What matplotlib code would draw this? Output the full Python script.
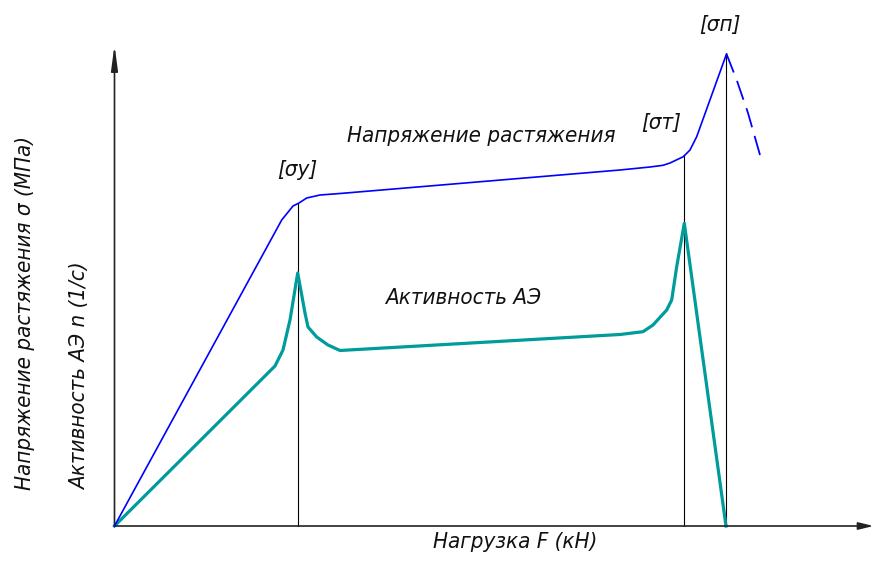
import numpy as np
import matplotlib
matplotlib.use("Agg")
import matplotlib.pyplot as plt

# Load F (arbitrary units) and tensile stress sigma (arbitrary units)
load_stress = [0, 16.72, 17.85, 18.45, 19.22, 20.55, 22.55, 50.55, 53.55, 54.85,
               55.55, 56.88, 57.55, 58.22, 61.2]
stress = [0, 30.6, 32.0, 32.3, 32.8, 33.1, 33.25, 35.6, 35.9, 36.07,
          36.3, 36.93, 37.6, 38.93, 47.2]
# Post-peak (dashed) branch
load_drop = [61.2, 62.22, 63.35, 64.55]
stress_drop = [47.2, 44.6, 41.3, 37.1]

# Acoustic-emission activity n
load_ae = [0, 16.05, 16.85, 17.55, 18.32, 19.05, 19.35, 20.22, 21.35, 22.55,
           50.55, 52.85, 53.85, 55.22, 55.72, 56.22, 56.98, 61.15]
activity = [0, 16.0, 17.6, 20.6, 25.3, 21.3, 19.9, 18.9, 18.1, 17.55,
            19.15, 19.43, 20.1, 21.6, 22.6, 25.93, 30.27, 0]

# Characteristic loads
crit_loads = [18.32, 56.98, 61.15]
crit_labels = ["[σу]", "[σт]", "[σп]"]

BLUE = "#0000ff"
TEAL = "#009b9b"

font = dict(family="DejaVu Sans", style="italic", stretch="condensed",
            color="#111111")

fig = plt.figure(figsize=(8.73, 5.61), dpi=100)
ax = fig.add_axes([0, 0, 1, 1])
ax.set_xlim(-11.45, 75.85)
ax.set_ylim(-3.5, 52.6)
ax.axis("off")

# axes with arrows
ax.annotate("", xy=(75.9, 0), xytext=(0, 0),
            arrowprops=dict(arrowstyle="-|>,head_length=0.9,head_width=0.22",
                            lw=1.2, color="#222222", shrinkA=0, shrinkB=0))
ax.annotate("", xy=(0, 48.1), xytext=(0, 0),
            arrowprops=dict(arrowstyle="-|>,head_length=1.5,head_width=0.2",
                            lw=1.2, color="#222222", shrinkA=0, shrinkB=0))

# vertical lines at characteristic loads
tops = np.interp(crit_loads, load_stress, stress)
for xl, yt in zip(crit_loads, tops):
    ax.plot([xl, xl], [0, yt], color="black", lw=0.8, zorder=1)

ax.plot(load_ae, activity, color=TEAL, lw=2.3, solid_joinstyle="round", zorder=2)
ax.plot(load_stress, stress, color=BLUE, lw=1.2, zorder=3)
ax.plot(load_drop, stress_drop, color=BLUE, lw=1.3, dashes=(11, 5), zorder=3)

# annotations
label_pos = [(18.25, 35.6), (54.65, 40.3), (60.55, 50.1)]
for (tx, ty), lab in zip(label_pos, crit_labels):
    ax.text(tx, ty, lab, ha="center", va="center", fontsize=16, **font)

ax.text(36.65, 39.0, "Напряжение растяжения", ha="center", va="center",
        fontsize=16, **font)
ax.text(34.85, 22.8, "Активность АЭ", ha="center", va="center",
        fontsize=16, **font)
ax.text(40.05, -1.6, "Нагрузка F (кН)", ha="center", va="center",
        fontsize=16, **font)
ax.text(-8.95, 3.6, "Напряжение растяжения σ (МПа)", ha="center", va="bottom",
        rotation=90, fontsize=16, **font)
ax.text(-3.45, 3.6, "Активность АЭ n (1/с)", ha="center", va="bottom",
        rotation=90, fontsize=16, **font)

fig.savefig("out.png", dpi=100)
